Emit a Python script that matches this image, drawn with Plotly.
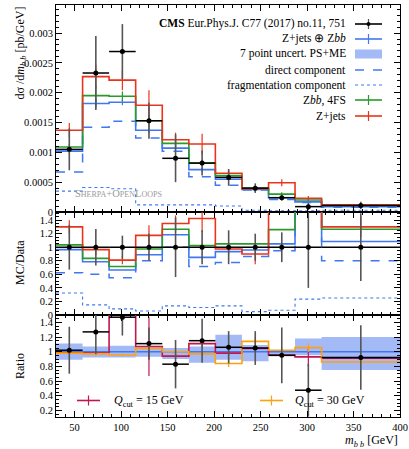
import plotly.graph_objects as go

# ---------------- data ----------------
edges = [30, 58.6, 87.1, 115.7, 144.3, 172.9, 201.4, 230.0, 258.6, 287.1, 315.7, 400]

# main panel: dsigma/dm_bb [pb/GeV]
data_y = [0.00105, 0.00233, 0.00269, 0.00153, 0.00090, 0.00082, 0.00058, 0.00040, 0.00024, 0.00009, 0.00011]
data_err = [0.00035, 0.00062, 0.00046, 0.00030, 0.00040, 0.00021, 0.00014, 0.00008, 0.00005, 0.00006, 0.00006]
zjets_y = [0.00137, 0.00227, 0.00221, 0.00179, 0.00121, 0.00114, 0.00065, 0.00039, 0.00049, 0.00023, 0.00012]
zjets_err = [0.00012, 0.00020, 0.00017, 0.00025, 0.00012, 0.00017, 0.00005, 0.00005, 0.00006, 0.00004, 0.00002]
zbb_y = [0.00109, 0.00195, 0.00194, 0.00153, 0.00115, 0.00082, 0.00061, 0.00040, 0.00030, 0.00020, 0.00011]
zbb_err = [0.00005, 0.00018, 0.00008, 0.00010, 0.00006, 0.00005, 0.00003, 0.00003, 0.00003, 0.00002, 0.00001]
comb_y = [0.00102, 0.00182, 0.00184, 0.00137, 0.00107, 0.00071, 0.00055, 0.00038, 0.00024, 0.00017, 0.00009]
comb_err = [0.00004, 0.00008, 0.00005, 0.00005, 0.00004, 0.00003, 0.00002, 0.00002, 0.00002, 0.00001, 0.00001]
direct_y = [0.00067, 0.00142, 0.00152, 0.00124, 0.00102, 0.00059, 0.00045, 0.00037, 0.00021, 0.00016, 0.00008]
frag_y = [0.00035, 0.00041, 0.00039, 0.00012, 0.00012, 0.00012, 0.00010, 0.00003, 0.00002, 0.00002, 0.00003]

# middle panel: MC/Data
r_data_err = [0.33, 0.27, 0.17, 0.20, 0.44, 0.25, 0.25, 0.20, 0.22, 0.60, 0.50]
r_zjets = [1.30, 0.965, 0.81, 1.175, 1.35, 1.425, 0.975, 0.90, 2.04, 2.50, 1.30]
r_zjets_err = [0.10, 0.08, 0.06, 0.15, 0.12, 0.20, 0.08, 0.15, 0.20, 0.40, 0.15]
r_zbb = [1.035, 0.835, 0.715, 0.975, 1.265, 1.025, 1.05, 1.05, 1.26, 2.20, 1.265]
r_comb = [0.965, 0.785, 0.665, 0.89, 1.185, 0.85, 0.935, 0.96, 1.05, 1.90, 1.085]
r_direct = [0.625, 0.60, 0.55, 0.80, 1.00, 0.715, 0.775, 0.865, 0.95, 1.75, 0.80]
r_frag = [0.325, 0.15, 0.09, 0.06, 0.135, 0.11, 0.135, 0.05, 0.07, 0.235, 0.25]

# bottom panel: Ratio
b_band_lo = [0.89, 0.92, 0.92, 0.93, 0.90, 0.85, 0.89, 0.87, 0.95, 0.95, 0.75]
b_band_hi = [1.11, 1.07, 1.08, 1.07, 1.05, 1.07, 1.23, 1.09, 1.02, 1.18, 1.20]
b_ref = [1.0] * 11
b_data = [1.02, 1.27, 1.47, 1.11, 0.83, 1.15, 1.06, 1.05, 0.95, 0.475, 0.92]
b_data_err = [0.32, 0.30, 0.25, 0.22, 0.33, 0.30, 0.22, 0.23, 0.38, 0.36, 0.44]
b_q15 = [0.985, 0.98, 1.75, 1.07, 0.94, 1.11, 0.98, 1.045, 0.955, 0.93, 0.91]
b_q15_err = [0.02, 0.03, 0.30, 0.40, 0.03, 0.05, 0.03, 0.02, 0.03, 0.13, 0.02]
b_q30 = [0.98, 0.97, 0.955, 1.045, 1.00, 0.97, 0.84, 1.14, 1.02, 1.055, 0.86]
b_q30_err = [0.02, 0.02, 0.02, 0.03, 0.02, 0.02, 0.05, 0.06, 0.04, 0.06, 0.05]

# ---------------- style ----------------
RED = "#E8341C"
GREEN = "#2A9A2A"
BLUE = "#3F78F2"
BAND = "rgba(90,130,240,0.55)"
CRIMSON = "#C5154F"
ORANGE = "#FFA010"
FONT = "Liberation Serif"

centers = [(edges[i] + edges[i + 1]) / 2 for i in range(len(edges) - 1)]
halfw = [(edges[i + 1] - edges[i]) / 2 for i in range(len(edges) - 1)]

fig = go.Figure()


def step(vals, color, xa, ya, dash="solid", width=1.6):
    fig.add_trace(go.Scatter(x=edges, y=list(vals) + [vals[-1]], mode="lines",
                             line=dict(color=color, width=width, dash=dash, shape="hv"),
                             xaxis=xa, yaxis=ya, showlegend=False, hoverinfo="skip"))


def vbars(vals, errs, color, xa, ya, width=1.2):
    xs, ys = [], []
    for c, v, e in zip(centers, vals, errs):
        xs += [c, c, None]
        ys += [v - e, v + e, None]
    fig.add_trace(go.Scatter(x=xs, y=ys, mode="lines", line=dict(color=color, width=width),
                             xaxis=xa, yaxis=ya, showlegend=False, hoverinfo="skip"))


def datapts(vals, errs, xa, ya):
    fig.add_trace(go.Scatter(x=centers, y=vals, mode="markers",
                             marker=dict(color="black", size=5),
                             error_x=dict(type="data", array=halfw, width=0, thickness=1.5, color="black"),
                             error_y=dict(type="data", array=errs, width=0, thickness=1.6, color="#555555"),
                             xaxis=xa, yaxis=ya, showlegend=False, hoverinfo="skip", cliponaxis=True))


# main panel (x, y)
step(frag_y, BLUE, "x", "y", dash="dot", width=1.1)
step(direct_y, BLUE, "x", "y", dash="dash", width=1.5)
step(comb_y, BLUE, "x", "y")
vbars(comb_y, comb_err, BLUE, "x", "y")
step(zbb_y, GREEN, "x", "y")
vbars(zbb_y, zbb_err, GREEN, "x", "y")
step(zjets_y, RED, "x", "y")
vbars(zjets_y, zjets_err, RED, "x", "y")
datapts(data_y, data_err, "x", "y")

# middle panel (x2, y2)
step(r_frag, BLUE, "x2", "y2", dash="dot", width=1.1)
step(r_direct, BLUE, "x2", "y2", dash="dash", width=1.5)
step(r_comb, BLUE, "x2", "y2")
step(r_zbb, GREEN, "x2", "y2")
step(r_zjets, RED, "x2", "y2")
vbars(r_zjets, r_zjets_err, RED, "x2", "y2")
datapts([1.0] * 11, r_data_err, "x2", "y2")

# bottom panel (x3, y3)
fig.add_trace(go.Scatter(x=edges, y=b_band_lo + [b_band_lo[-1]], mode="lines",
                         line=dict(width=0, shape="hv"), xaxis="x3", yaxis="y3",
                         showlegend=False, hoverinfo="skip"))
fig.add_trace(go.Scatter(x=edges, y=b_band_hi + [b_band_hi[-1]], mode="lines",
                         line=dict(width=0, shape="hv"), fill="tonexty", fillcolor=BAND,
                         xaxis="x3", yaxis="y3", showlegend=False, hoverinfo="skip"))
step(b_ref, BLUE, "x3", "y3")
step(b_q15, CRIMSON, "x3", "y3")
vbars(b_q15, b_q15_err, CRIMSON, "x3", "y3")
step(b_q30, ORANGE, "x3", "y3")
vbars(b_q30, b_q30_err, ORANGE, "x3", "y3")
datapts(b_data, b_data_err, "x3", "y3")

# ---------------- axes ----------------
tickfont = dict(family=FONT, size=10.5, color="black")
common_x = dict(range=[30, 400], ticks="inside", ticklen=6, tickwidth=1, tickcolor="black",
                mirror="allticks", showline=True, linecolor="black", linewidth=1,
                showgrid=False, zeroline=False, tickmode="linear", tick0=0, dtick=50,
                automargin=False,
                minor=dict(ticks="inside", ticklen=3, dtick=10, tick0=0, tickcolor="black"),
                tickfont=tickfont)


def yax(rng, dtick, mdtick, fmt, dom):
    return dict(range=rng, domain=dom, ticks="inside", ticklen=6, tickwidth=1, tickcolor="black",
                mirror="allticks", showline=True, linecolor="black", linewidth=1,
                showgrid=False, zeroline=False, tickmode="linear", tick0=0, dtick=dtick,
                tickformat=fmt, automargin=False,
                minor=dict(ticks="inside", ticklen=3, dtick=mdtick, tick0=0, tickcolor="black"),
                tickfont=tickfont)


H = 412.0
d_bot = [0, 102 / H]
d_mid = [102 / H, 205 / H]
d_top = [205 / H, 1]

fig.update_layout(
    template="none",
    width=409, height=449,
    margin=dict(l=56, r=9, t=5, b=32, autoexpand=False),
    paper_bgcolor="white", plot_bgcolor="white",
    font=dict(family=FONT, color="black"),
    showlegend=False,
    xaxis=dict(common_x, anchor="y", showticklabels=False),
    xaxis2=dict(common_x, anchor="y2", matches="x", showticklabels=False),
    xaxis3=dict(common_x, anchor="y3", matches="x", showticklabels=True),
    yaxis=yax([0, 0.00347], 0.0005, 0.0001, ".4~f", d_top),
    yaxis2=yax([0, 1.52], 0.2, 0.05, ".1~f", d_mid),
    yaxis3=yax([0.11, 1.5], 0.2, 0.05, ".1~f", d_bot),
)
fig.layout.yaxis.anchor = "x"
fig.layout.yaxis2.anchor = "x2"
fig.layout.yaxis3.anchor = "x3"

# ---------------- text & legend ----------------
W = 344.0


def px_x(p):
    return (p - 56) / W


def px_y(p):
    return (417 - p) / H


ann = []
lfont = dict(family=FONT, size=11.5, color="black")
labels = [
    "<b>CMS</b> Eur.Phys.J. C77 (2017) no.11, 751",
    "Z+jets ⊕ Z<i>bb</i>",
    "7 point uncert. PS+ME",
    "direct component",
    "fragmentation component",
    "Z<i>bb</i>, 4FS",
    "Z+jets",
]
rows = [24, 39, 54, 70, 85, 100, 116]
for t, r in zip(labels, rows):
    ann.append(dict(text=t, x=px_x(348), y=px_y(r), xref="paper", yref="paper",
                    xanchor="right", yanchor="middle", showarrow=False, font=lfont))

shapes = []
x0, x1 = px_x(355), px_x(382)
xc = px_x(368.5)


def lline(r, color, dash="solid", width=1.6, tick=True, tickcolor=None):
    shapes.append(dict(type="line", xref="paper", yref="paper", x0=x0, x1=x1, y0=px_y(r), y1=px_y(r),
                       line=dict(color=color, width=width, dash=dash)))
    if tick:
        shapes.append(dict(type="line", xref="paper", yref="paper", x0=xc, x1=xc,
                           y0=px_y(r - 5), y1=px_y(r + 5),
                           line=dict(color=tickcolor or color, width=1.2)))


lline(rows[0], "black", tickcolor="#555555")
shapes.append(dict(type="circle", xref="paper", yref="paper", x0=px_x(366.5), x1=px_x(370.5),
                   y0=px_y(rows[0] + 2), y1=px_y(rows[0] - 2), fillcolor="black", line=dict(width=0)))
lline(rows[1], BLUE)
shapes.append(dict(type="rect", xref="paper", yref="paper", x0=x0, x1=x1, y0=px_y(rows[2] + 4.5),
                   y1=px_y(rows[2] - 4.5), fillcolor=BAND, line=dict(width=0)))
lline(rows[3], BLUE, dash="dash", width=1.5, tick=False)
lline(rows[4], BLUE, dash="dot", width=1.1, tick=False)
lline(rows[5], GREEN)
lline(rows[6], RED)

# bottom legend
for (sx0, sx1, tx, color, num) in [(77, 100, 112, CRIMSON, "15"),
                                   (260, 283, 293, ORANGE, "30")]:
    yy = 400.5
    shapes.append(dict(type="line", xref="paper", yref="paper", x0=px_x(sx0), x1=px_x(sx1),
                       y0=px_y(yy), y1=px_y(yy), line=dict(color=color, width=1.6)))
    shapes.append(dict(type="line", xref="paper", yref="paper", x0=px_x((sx0 + sx1) / 2),
                       x1=px_x((sx0 + sx1) / 2), y0=px_y(yy - 5), y1=px_y(yy + 5),
                       line=dict(color=color, width=1.2)))
    ann.append(dict(text="<i>Q</i><sub>cut</sub> = " + num + " GeV",
                    x=px_x(tx), y=px_y(yy), xref="paper", yref="paper", xanchor="left",
                    yanchor="middle", showarrow=False, font=dict(family=FONT, size=12, color="black")))

# generator label
sc = "<span style='font-size:8px'>"
ann.append(dict(text="S" + sc + "HERPA</span>+O" + sc + "PEN</span>L" + sc + "OOPS</span>",
                x=px_x(73), y=px_y(193), xref="paper", yref="paper", xanchor="left",
                yanchor="middle", showarrow=False,
                font=dict(family=FONT, size=10.5, color="#9a9a9a")))

# axis titles
tfont = dict(family=FONT, size=12, color="black")
ann.append(dict(text="dσ /d<i>m</i><sub><i>b b</i></sub> [pb/GeV]", textangle=-90,
                x=px_x(10), y=1, xref="paper", yref="paper", xanchor="left", yanchor="top",
                showarrow=False, font=tfont))
ann.append(dict(text="MC/Data", textangle=-90, x=px_x(11), y=px_y(263), xref="paper", yref="paper",
                xanchor="left", yanchor="middle", showarrow=False, font=tfont))
ann.append(dict(text="Ratio", textangle=-90, x=px_x(11), y=px_y(366), xref="paper", yref="paper",
                xanchor="left", yanchor="middle", showarrow=False, font=tfont))
ann.append(dict(text="<i>m</i><sub><i>b b</i></sub> [GeV]", x=1, y=px_y(441), xref="paper",
                yref="paper", xanchor="right", yanchor="middle", showarrow=False, font=tfont))

fig.update_layout(annotations=ann, shapes=shapes)
fig.write_html("out.html", config={"displayModeBar": False},
               post_script="document.body.style.margin='0';document.body.style.overflow='hidden';")
